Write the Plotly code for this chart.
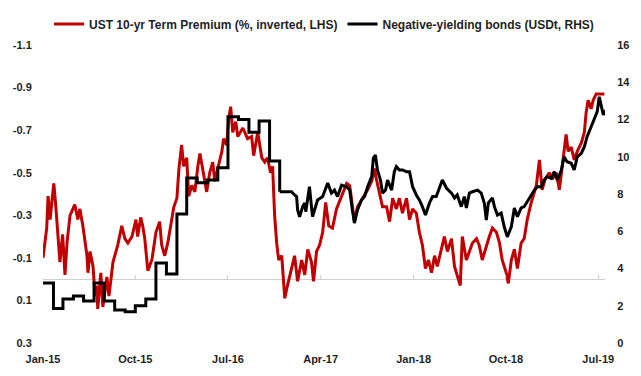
import plotly.graph_objects as go

# ---------------- data ----------------
tp_dates = [
    "2015-01-01","2015-01-12","2015-01-16","2015-01-22","2015-01-27","2015-02-02","2015-02-08","2015-02-14",
    "2015-02-20","2015-02-28","2015-03-07","2015-03-13","2015-03-22","2015-04-05","2015-04-14","2015-04-20",
    "2015-04-29","2015-05-11","2015-05-14","2015-05-20","2015-05-29","2015-06-04","2015-06-09","2015-06-12",
    "2015-06-21","2015-06-27","2015-07-09","2015-07-15","2015-07-27","2015-08-10","2015-08-22","2015-08-31",
    "2015-09-09","2015-09-21","2015-10-03","2015-10-08","2015-10-17","2015-10-23","2015-10-29","2015-11-07",
    "2015-11-19","2015-12-01","2015-12-12","2015-12-18","2015-12-27","2016-01-05","2016-01-17","2016-01-23",
    "2016-02-01","2016-02-07","2016-02-15","2016-02-21","2016-03-01","2016-03-07","2016-03-16","2016-03-25",
    "2016-04-03","2016-04-09","2016-04-17","2016-04-23","2016-04-29","2016-05-08","2016-05-17","2016-05-23",
    "2016-06-01","2016-06-13","2016-06-18","2016-06-27","2016-07-03","2016-07-09","2016-07-15","2016-07-24",
    "2016-07-30","2016-08-14","2016-08-28","2016-09-09","2016-09-15","2016-09-27","2016-10-09","2016-10-18",
    "2016-10-26","2016-11-04","2016-11-10","2016-11-16","2016-11-22","2016-11-28","2016-12-07","2016-12-16",
    "2016-12-24","2017-01-05","2017-01-14","2017-01-23","2017-02-04","2017-02-13","2017-02-22","2017-03-05",
    "2017-03-11","2017-03-20","2017-03-29","2017-04-07","2017-04-16","2017-04-25","2017-05-06","2017-05-18",
    "2017-06-02","2017-06-17","2017-06-26","2017-07-10","2017-07-19","2017-08-03","2017-08-18","2017-08-30",
    "2017-09-07","2017-09-13","2017-09-22","2017-10-01","2017-10-13","2017-10-22","2017-10-31","2017-11-11",
    "2017-11-20","2017-11-29","2017-12-11","2017-12-20","2017-12-29","2018-01-09","2018-01-18","2018-01-27",
    "2018-02-05","2018-02-14","2018-02-23","2018-03-04","2018-03-12","2018-03-24","2018-04-02","2018-04-11",
    "2018-04-23","2018-05-02","2018-05-10","2018-05-19","2018-05-25","2018-06-06","2018-06-15","2018-06-24",
    "2018-07-06","2018-07-14","2018-07-23","2018-08-04","2018-08-13","2018-08-22","2018-09-03","2018-09-12",
    "2018-09-20","2018-10-02","2018-10-08","2018-10-17","2018-10-26","2018-11-04","2018-11-15","2018-11-24",
    "2018-12-03","2018-12-15","2018-12-24","2018-12-30","2019-01-08","2019-01-16","2019-01-25","2019-02-06",
    "2019-02-15","2019-02-27","2019-03-08","2019-03-17","2019-03-28","2019-04-03","2019-04-12","2019-04-21",
    "2019-04-30","2019-05-12","2019-05-21","2019-05-26","2019-06-01","2019-06-10","2019-06-16","2019-06-25",
    "2019-07-04","2019-07-19",
]
tp_values = [
    -0.10,-0.24,-0.39,-0.28,-0.36,-0.45,-0.34,-0.19,
    -0.08,-0.21,-0.02,-0.17,-0.30,-0.35,-0.28,-0.33,
    -0.25,-0.11,-0.03,-0.13,-0.06,0.08,0.03,0.14,
    -0.03,0.13,-0.01,0.08,-0.08,-0.16,-0.25,-0.19,
    -0.17,-0.20,-0.28,-0.20,-0.29,-0.25,-0.19,-0.04,
    -0.09,-0.22,-0.27,-0.16,-0.11,-0.17,-0.28,-0.34,
    -0.38,-0.52,-0.63,-0.53,-0.57,-0.39,-0.44,-0.41,
    -0.53,-0.59,-0.52,-0.47,-0.41,-0.50,-0.55,-0.46,
    -0.52,-0.60,-0.66,-0.63,-0.75,-0.81,-0.69,-0.74,
    -0.67,-0.71,-0.66,-0.67,-0.58,-0.69,-0.57,-0.55,
    -0.57,-0.50,-0.53,-0.30,-0.17,-0.09,-0.11,0.09,
    0.03,-0.05,-0.11,0.01,-0.09,-0.02,-0.14,-0.08,
    0.01,-0.13,-0.16,-0.22,-0.36,-0.25,-0.24,-0.33,
    -0.39,-0.45,-0.44,-0.27,-0.34,-0.38,-0.42,-0.46,
    -0.52,-0.47,-0.41,-0.34,-0.34,-0.27,-0.38,-0.33,
    -0.38,-0.31,-0.38,-0.28,-0.33,-0.31,-0.22,-0.16,
    -0.05,-0.09,-0.03,-0.11,-0.06,-0.14,-0.20,-0.13,
    -0.19,-0.06,-0.02,0.03,-0.20,-0.09,-0.13,-0.17,
    -0.19,-0.16,-0.09,-0.16,-0.20,-0.24,-0.22,-0.17,
    -0.09,-0.03,0.02,-0.09,-0.14,-0.05,-0.17,-0.19,
    -0.28,-0.36,-0.41,-0.44,-0.56,-0.42,-0.47,-0.50,
    -0.47,-0.50,-0.42,-0.53,-0.68,-0.60,-0.62,-0.56,
    -0.60,-0.64,-0.69,-0.78,-0.84,-0.80,-0.84,-0.87,
    -0.87,-0.87,
]

# Negative-yielding bonds: monthly observations (2015 - Nov 2016)
nyb_monthly_dates = [
    "2015-01-01","2015-02-01","2015-03-01","2015-04-01","2015-05-01","2015-06-01",
    "2015-07-01","2015-08-01","2015-09-01","2015-10-01","2015-11-01","2015-12-01",
    "2016-01-01","2016-02-01","2016-03-01","2016-04-01","2016-05-01","2016-06-01",
    "2016-07-01","2016-08-01","2016-09-01","2016-10-01","2016-11-01","2016-12-01",
]
nyb_monthly_values = [
    3.22,1.85,2.36,2.52,2.25,3.22,
    2.25,1.77,1.68,2.00,2.36,4.30,
    3.70,6.93,8.86,8.61,8.75,9.41,
    12.15,12.00,11.31,11.92,9.77,8.12,
]
# Negative-yielding bonds: higher-frequency observations (Dec 2016 onward)
nyb_daily_dates = [
    "2016-12-01","2017-01-05","2017-01-14","2017-01-20","2017-01-23","2017-01-29","2017-02-07","2017-02-13",
    "2017-02-16","2017-02-27","2017-03-08","2017-03-23","2017-04-07","2017-04-22","2017-05-03","2017-05-12",
    "2017-05-21","2017-06-02","2017-06-17","2017-06-26","2017-07-04","2017-07-10","2017-07-19","2017-07-31",
    "2017-08-09","2017-08-18","2017-08-30","2017-09-04","2017-09-10","2017-09-16","2017-09-25","2017-10-01",
    "2017-10-10","2017-10-16","2017-10-28","2017-11-05","2017-11-11","2017-11-20","2017-11-29","2017-12-11",
    "2017-12-20","2017-12-29","2018-01-09","2018-01-18","2018-01-27","2018-02-05","2018-02-17","2018-02-26",
    "2018-03-09","2018-03-18","2018-03-27","2018-04-08","2018-04-23","2018-05-02","2018-05-10","2018-05-22",
    "2018-05-31","2018-06-06","2018-06-15","2018-06-24","2018-07-09","2018-07-20","2018-07-29","2018-08-04",
    "2018-08-10","2018-08-22","2018-08-28","2018-09-06","2018-09-17","2018-09-26","2018-10-05","2018-10-17",
    "2018-10-26","2018-11-04","2018-11-15","2018-11-24","2018-12-03","2018-12-15","2018-12-24","2019-01-02",
    "2019-01-14","2019-01-22","2019-01-31","2019-02-12","2019-02-21","2019-03-02","2019-03-14","2019-03-22",
    "2019-03-31","2019-04-12","2019-04-21","2019-04-30","2019-05-12","2019-05-21","2019-05-29","2019-06-10",
    "2019-06-19","2019-06-28","2019-07-04","2019-07-10","2019-07-16","2019-07-20",
]
nyb_daily_values = [
    8.12,8.12,7.95,7.86,7.14,6.78,7.32,7.52,
    7.05,8.39,6.78,7.68,7.86,8.59,8.05,8.21,
    7.86,8.48,8.39,8.21,7.14,6.44,7.14,7.68,
    7.86,8.39,8.93,9.93,10.09,9.29,8.75,8.05,
    8.21,8.75,8.21,9.20,9.47,9.29,9.29,9.20,
    9.20,8.39,7.95,7.68,7.32,6.87,7.52,7.86,
    7.86,8.32,8.75,8.32,8.05,7.79,7.95,7.32,
    7.86,7.25,8.05,8.12,8.21,8.05,7.52,6.60,
    7.52,7.79,7.32,6.87,6.98,6.24,5.70,6.24,
    7.25,6.78,7.25,7.32,7.59,7.95,8.21,8.39,
    8.39,8.75,8.93,8.84,9.20,8.75,9.29,10.00,
    9.73,9.65,9.29,10.00,10.19,10.54,11.08,11.61,
    11.97,12.42,13.22,12.78,12.24,12.51,
]

x_tick_dates = ["2015-01-01","2015-10-01","2016-07-01","2017-04-01","2018-01-01","2018-10-01","2019-07-01"]
x_tick_labels = ["Jan-15","Oct-15","Jul-16","Apr-17","Jan-18","Oct-18","Jul-19"]
left_tick_vals = [-1.1,-0.9,-0.7,-0.5,-0.3,-0.1,0.1,0.3]
left_tick_text = ["-1.1","-0.9","-0.7","-0.5","-0.3","-0.1","0.1","0.3"]
right_tick_vals = [0,2,4,6,8,10,12,14,16]

x_range = ["2015-01-01", "2019-07-21"]
left_range = [0.3, -1.1]
right_range = [0, 16]

# ---------------- figure ----------------
FONT = "Liberation Sans Narrow, Arial Narrow, Liberation Sans, Arial, sans-serif"
RED = "#C00000"
TXT = "#1f1f1f"
AX_GREY = "#cfcfcf"
TICKFONT = dict(family=FONT, size=11, color=TXT, weight="bold")

# fraction of plot height at which the left-axis value 0 sits (x-axis line position)
zero_pos = (left_range[0] - 0) / (left_range[0] - left_range[1])

fig = go.Figure()
fig.add_trace(go.Scatter(
    x=tp_dates, y=tp_values, mode="lines", name="UST 10-yr Term Premium (%, inverted, LHS)",
    line=dict(color=RED, width=3), xaxis="x", yaxis="y"))
fig.add_trace(go.Scatter(
    x=nyb_monthly_dates, y=nyb_monthly_values, mode="lines", name="Negative-yielding bonds (USDt, RHS)",
    line=dict(color="black", width=3, shape="hv"), xaxis="x", yaxis="y2", legendgroup="nyb"))
fig.add_trace(go.Scatter(
    x=nyb_daily_dates, y=nyb_daily_values, mode="lines", name="Negative-yielding bonds (USDt, RHS)",
    line=dict(color="black", width=3), xaxis="x", yaxis="y2", legendgroup="nyb", showlegend=False))
# carrier trace for the tick-mark axis drawn at value 0
fig.add_trace(go.Scatter(x=[x_range[0]], y=[0], mode="markers", marker=dict(size=1, opacity=0),
                         xaxis="x2", yaxis="y", showlegend=False, hoverinfo="skip"))

fig.update_layout(
    width=641, height=376,
    margin=dict(l=43, r=36, t=45, b=33, autoexpand=False),
    paper_bgcolor="white", plot_bgcolor="white",
    font=dict(family=FONT, size=11, color=TXT),
    showlegend=True,
    hovermode=False,
    legend=dict(orientation="h", x=0.5, xanchor="center", y=1 + 21 / 298, yanchor="middle",
                font=dict(family=FONT, size=12, color=TXT, weight="bold"), itemwidth=30,
                traceorder="normal", bgcolor="rgba(0,0,0,0)"),
    xaxis=dict(
        type="date", range=x_range, anchor="y", side="bottom", automargin=False,
        showline=False, ticks="outside", ticklen=6, tickcolor="rgba(0,0,0,0)",
        tickvals=x_tick_dates, ticktext=x_tick_labels, showgrid=False, zeroline=False,
        tickfont=TICKFONT),
    xaxis2=dict(
        type="date", range=x_range, overlaying="x", anchor="free", position=zero_pos, side="bottom",
        automargin=False, showline=False,
        ticks="inside", ticklen=4, tickcolor=AX_GREY, tickvals=x_tick_dates,
        showticklabels=False, showgrid=False, zeroline=False),
    yaxis=dict(
        range=left_range, tickvals=left_tick_vals, ticktext=left_tick_text, automargin=False,
        showgrid=False, zeroline=True, zerolinecolor=AX_GREY, zerolinewidth=1, showline=False,
        ticks="outside", ticklen=8, tickcolor="rgba(0,0,0,0)",
        tickfont=TICKFONT),
    yaxis2=dict(
        range=right_range, tickvals=right_tick_vals, overlaying="y", side="right", anchor="x",
        automargin=False, showgrid=False, zeroline=False, showline=False,
        ticks="outside", ticklen=9, tickcolor="rgba(0,0,0,0)",
        tickfont=TICKFONT),
)

fig.write_html("out.html", config={"displayModeBar": False},
               post_script="document.body.style.margin='0';")
